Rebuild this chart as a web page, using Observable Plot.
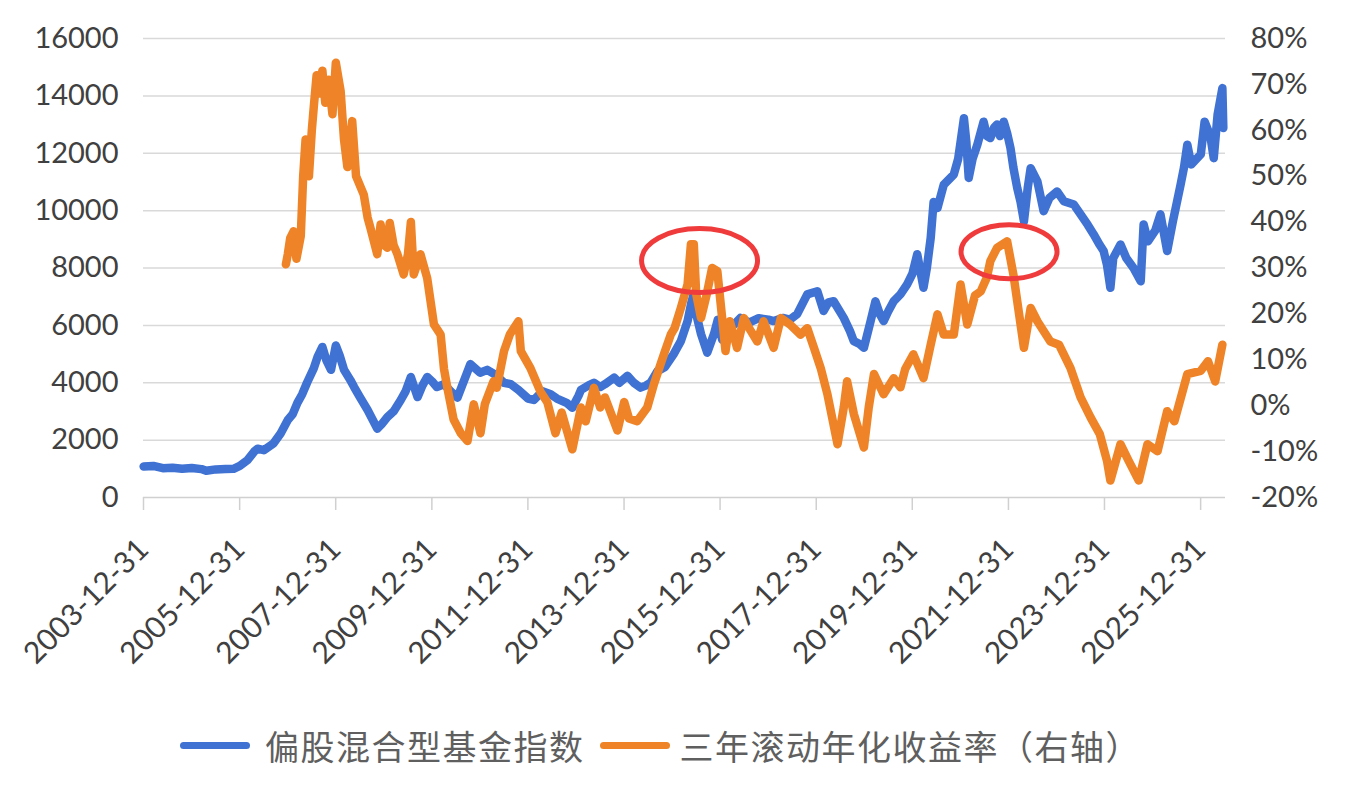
<!DOCTYPE html>
<html><head><meta charset="utf-8">
<script src="https://cdn.jsdelivr.net/npm/d3@7"></script>
<script src="https://cdn.jsdelivr.net/npm/@observablehq/plot@0.6"></script>
<style>
body{margin:0;background:#fff;width:1348px;height:786px;overflow:hidden;position:relative;font-family:Lato,sans-serif}
#legend{position:absolute;left:180px;top:722px;height:46px;display:flex;align-items:center;font-family:"Noto Sans CJK SC",sans-serif;font-size:34px;color:#5f5f5f;letter-spacing:1.5px;white-space:nowrap}
.sw{display:inline-block;width:70px;height:7px;border-radius:4px}
</style></head><body>
<div id="chart"></div>
<div id="legend"><span class="sw" id="sw1"></span><span style="margin-left:15px" id="lg1"></span><span class="sw" id="sw2" style="margin-left:15px"></span><span style="margin-left:10px" id="lg2"></span></div>
<script>
// ---- data (decimal years) ----
const seriesNames = ["偏股混合型基金指数", "三年滚动年化收益率（右轴）"];
const seriesColors = ["#3f72d2", "#ee8427"];

const blueT = [2004.0,2004.2,2004.4,2004.6,2004.8,2005.0,2005.2,2005.3,2005.5,2005.7,2005.87,2006.0,2006.16,2006.3,2006.37,2006.5,2006.7,2006.85,2007.0,2007.1,2007.2,2007.3,2007.4,2007.54,2007.62,2007.72,2007.8,2007.9,2008.0,2008.08,2008.17,2008.3,2008.38,2008.5,2008.66,2008.8,2008.86,2008.95,2009.07,2009.2,2009.35,2009.45,2009.56,2009.63,2009.7,2009.8,2009.9,2010.0,2010.1,2010.25,2010.39,2010.53,2010.65,2010.8,2010.9,2011.0,2011.15,2011.3,2011.5,2011.64,2011.8,2012.0,2012.12,2012.3,2012.47,2012.6,2012.8,2012.92,2013.05,2013.1,2013.25,2013.37,2013.5,2013.6,2013.79,2013.9,2014.07,2014.2,2014.34,2014.45,2014.55,2014.69,2014.85,2015.03,2015.18,2015.32,2015.4,2015.45,2015.5,2015.6,2015.73,2015.87,2015.95,2016.04,2016.12,2016.3,2016.42,2016.6,2016.8,2017.0,2017.11,2017.3,2017.45,2017.6,2017.81,2018.02,2018.15,2018.25,2018.36,2018.57,2018.7,2018.78,2018.9,2018.99,2019.13,2019.23,2019.32,2019.4,2019.5,2019.61,2019.75,2019.89,2020.0,2020.1,2020.23,2020.3,2020.38,2020.44,2020.52,2020.65,2020.86,2020.95,2021.07,2021.12,2021.17,2021.25,2021.35,2021.48,2021.55,2021.62,2021.7,2021.76,2021.82,2021.9,2021.97,2022.04,2022.1,2022.18,2022.25,2022.32,2022.4,2022.46,2022.6,2022.73,2022.85,2023.01,2023.15,2023.36,2023.5,2023.65,2023.77,2023.9,2023.98,2024.05,2024.12,2024.18,2024.33,2024.45,2024.6,2024.75,2024.81,2024.9,2025.05,2025.16,2025.3,2025.42,2025.58,2025.65,2025.72,2025.8,2026.0,2026.08,2026.2,2026.27,2026.35,2026.45,2026.47];
const blueV = [1080,1100,1020,1040,1000,1030,990,930,980,990,1000,1100,1300,1600,1700,1650,1880,2230,2700,2900,3300,3600,4000,4500,4900,5250,4800,4450,5300,4950,4450,4100,3850,3500,3050,2600,2400,2550,2800,3000,3400,3700,4200,3850,3500,3900,4200,4050,3850,3950,3700,3480,4000,4650,4500,4350,4450,4300,4000,3950,3750,3450,3400,3700,3600,3450,3300,3130,3550,3750,3900,4000,3850,3950,4180,4000,4240,4000,3830,3900,4000,4400,4550,5000,5450,6150,6800,7100,6400,5700,5050,5700,6200,5500,5800,6050,6260,6100,6250,6200,6150,6260,6200,6390,7080,7190,6500,6800,6840,6260,5800,5450,5350,5220,6150,6840,6400,6150,6500,6840,7080,7430,7800,8480,7310,8000,9050,10300,10090,10900,11260,11800,13220,12400,11140,11800,12300,13100,12600,12530,12900,13000,12600,13100,12700,12180,11500,10790,10300,9630,10800,11480,11020,9980,10440,10670,10330,10210,9870,9500,9180,8800,8590,8100,7310,8350,8820,8350,8000,7540,9520,8930,9300,9870,8590,9630,10910,11500,12300,11610,11960,13100,12600,11830,13340,14270,12880];

const orangeT = [2006.96,2007.0,2007.05,2007.12,2007.18,2007.27,2007.32,2007.37,2007.44,2007.5,2007.54,2007.6,2007.65,2007.72,2007.78,2007.85,2007.93,2008.0,2008.1,2008.17,2008.24,2008.34,2008.42,2008.58,2008.66,2008.72,2008.86,2008.93,2009.0,2009.07,2009.12,2009.2,2009.28,2009.41,2009.5,2009.56,2009.62,2009.76,2009.9,2010.04,2010.18,2010.25,2010.32,2010.45,2010.6,2010.74,2010.87,2011.01,2011.1,2011.28,2011.35,2011.5,2011.62,2011.8,2011.85,2012.05,2012.26,2012.4,2012.57,2012.7,2012.92,2013.1,2013.2,2013.37,2013.5,2013.6,2013.86,2014.0,2014.1,2014.27,2014.48,2014.62,2014.76,2014.85,2014.97,2015.05,2015.18,2015.32,2015.39,2015.45,2015.5,2015.6,2015.72,2015.83,2015.94,2016.04,2016.11,2016.2,2016.35,2016.49,2016.6,2016.77,2016.9,2017.11,2017.26,2017.45,2017.67,2017.81,2017.95,2018.09,2018.23,2018.44,2018.57,2018.64,2018.78,2018.99,2019.09,2019.2,2019.4,2019.61,2019.75,2019.85,2020.02,2020.23,2020.38,2020.52,2020.65,2020.86,2021.0,2021.14,2021.3,2021.42,2021.55,2021.62,2021.76,2021.97,2022.1,2022.32,2022.46,2022.6,2022.87,2023.05,2023.29,2023.5,2023.71,2023.9,2024.05,2024.12,2024.33,2024.5,2024.71,2024.89,2025.1,2025.3,2025.45,2025.72,2026.0,2026.15,2026.3,2026.45];
const orangeV = [30.8,33,36.5,38,32,37,50,58,50,60,65,72,68,73,66,71,63.5,74.7,68.5,58,52,62,50,46,41,38.7,33,39.5,35,34.4,39.8,35,33,28.6,33,40,28.6,33,27.8,17.7,15.5,8,3.9,-3,-6,-7.7,0.3,-6,0.3,5.3,3.9,11.9,15.5,18.4,11.9,8.2,3,0.8,-6,-1.5,-9.5,-0.4,-3.4,3.9,-0.4,1.8,-5.4,0.8,-2.8,-3.4,-0.4,4.7,9.1,11.9,15.5,16.9,21.3,26.4,35.2,35.2,24.3,19.1,24.3,30,29.3,19.1,11.9,18.4,12.6,19.1,16.9,14,18.4,12.6,19.1,17.7,15.5,16.9,12.6,8.2,2.5,-8.4,-0.4,5.3,-1.8,-9.1,-0.4,6.9,2.5,6,4,8,11.2,6,13.3,19.9,15.5,15.5,26.4,17.7,24,24.9,28,31.5,34.4,35.8,28.6,12.6,21.3,18.4,14,13.3,8.2,1.8,-2.6,-6.2,-12,-16.3,-8.4,-12,-16.3,-8.4,-9.9,-1.2,-3.4,6.9,7.6,9.7,5.3,13.3];

const leftTicks = [0,2000,4000,6000,8000,10000,12000,14000,16000];
const rightTicks = [-20,-10,0,10,20,30,40,50,60,70,80];
const xTickLabels = ["2003-12-31","2005-12-31","2007-12-31","2009-12-31","2011-12-31","2013-12-31","2015-12-31","2017-12-31","2019-12-31","2021-12-31","2023-12-31","2025-12-31"];
// annotation ellipses: center (decimal year, left-axis value)
const ellipseT = [2015.58, 2022.02];
const ellipseV = [8240, 8550];

// ---- helpers ----
function yd(t){const y=Math.floor(t);const s=Date.UTC(y,0,1),e=Date.UTC(y+1,0,1);return new Date(s+(t-y)*(e-s));}
const pctToLeft = p => (p + 20) * 160;   // right axis [-20%,80%] onto left [0,16000]
const leftToPct = v => Math.round(v / 160 - 20);

const blue = blueT.map((t,i)=>({date:yd(t), v:blueV[i]}));
const orange = orangeT.map((t,i)=>({date:yd(t), v:pctToLeft(orangeV[i])}));
const xTicks = xTickLabels.map(s=>new Date(s+"T00:00Z"));
const fmt = d3.utcFormat("%Y-%m-%d");

const plot = Plot.plot({
  width:1348, height:690,
  marginLeft:143, marginRight:123, marginTop:38, marginBottom:193,
  style:{fontFamily:"Lato, sans-serif", fontSize:"29px", color:"#404040", background:"transparent", overflow:"visible"},
  x:{type:"utc", domain:[new Date("2003-12-31T00:00Z"), new Date("2026-07-08T00:00Z")]},
  y:{domain:[0,16000]},
  marks:[
    Plot.gridY(leftTicks.slice(1), {stroke:"#d9d9d9", strokeOpacity:1, strokeWidth:1.5}),
    Plot.ruleY([0], {stroke:"#d0d0d0", strokeWidth:1.5}),
    Plot.axisY(leftTicks, {anchor:"left", tickSize:0, tickPadding:25, label:null, fill:"#404040", tickFormat: d => String(d)}),
    Plot.axisY(rightTicks.map(pctToLeft), {anchor:"right", tickSize:0, tickPadding:25, label:null, fill:"#404040", tickFormat: v => leftToPct(v) + "%"}),
    Plot.axisX(xTicks, {anchor:"bottom", tickSize:13, tickPadding:34, tickRotate:-45, stroke:"#d0d0d0", strokeWidth:1.5, fill:"#404040", label:null, tickFormat: d => fmt(d), fontSize:30}),
    Plot.line(blue, {x:"date", y:"v", stroke:seriesColors[0], strokeWidth:8.5, strokeLinejoin:"round", strokeLinecap:"round"}),
    Plot.line(orange, {x:"date", y:"v", stroke:seriesColors[1], strokeWidth:8.5, strokeLinejoin:"round", strokeLinecap:"round"})
  ]
});
document.getElementById("chart").appendChild(plot);

// red annotation ellipses through the plot's scales
const xs = plot.scale("x"), ys = plot.scale("y");
const radii = [[58,32],[48,27]];
const svg = d3.select(plot);
ellipseT.forEach((t,i)=>{
  svg.append("ellipse")
    .attr("cx", xs.apply(yd(t))).attr("cy", ys.apply(ellipseV[i]))
    .attr("rx", radii[i][0]).attr("ry", radii[i][1])
    .attr("fill","none").attr("stroke","#ef3b3b").attr("stroke-width",5);
});

document.getElementById("sw1").style.background = seriesColors[0];
document.getElementById("sw2").style.background = seriesColors[1];
document.getElementById("lg1").textContent = seriesNames[0];
document.getElementById("lg2").textContent = seriesNames[1];
</script>
</body></html>
